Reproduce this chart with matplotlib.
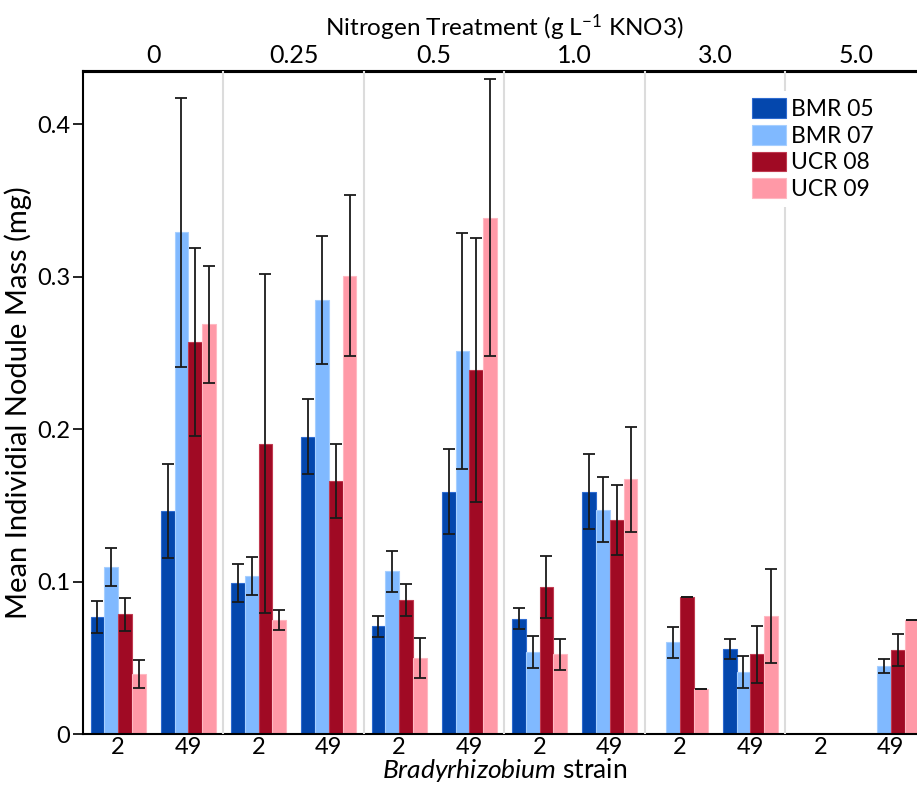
import numpy as np
import matplotlib
matplotlib.use("Agg")
import matplotlib.pyplot as plt

plt.rcParams["font.family"] = ["Lato", "DejaVu Sans"]
plt.rcParams["mathtext.fontset"] = "custom"
plt.rcParams["mathtext.rm"] = "Lato"
plt.rcParams["mathtext.it"] = "Lato:italic"

nan = np.nan

# nitrogen treatments (top axis) and strains (bottom axis)
treatments = ["0", "0.25", "0.5", "1.0", "3.0", "5.0"]
strains = ["2", "49"]
series = ["BMR 05", "BMR 07", "UCR 08", "UCR 09"]
colors = ["#0447AD", "#80B9FF", "#A00A24", "#FF99A7"]
edges = ["#2E6BD0", "#A6CFFF", "#C03A50", "#FFB8C2"]

# one value per (treatment, strain), in order 0/2, 0/49, 0.25/2, ...
bmr05 = [0.0765, 0.1464, 0.099, 0.195, 0.0706, 0.1591, 0.0756, 0.1591, nan, 0.056, nan, nan]
bmr05_err = [0.0105, 0.0306, 0.0125, 0.0245, 0.007, 0.028, 0.0068, 0.0248, nan, 0.0065, nan, nan]
bmr07 = [0.1097, 0.3292, 0.1036, 0.2846, 0.1067, 0.2513, 0.054, 0.1473, 0.0601, 0.0404, nan, 0.0446]
bmr07_err = [0.0125, 0.0883, 0.0125, 0.042, 0.0135, 0.0773, 0.0105, 0.0212, 0.01, 0.0105, nan, 0.0048]
ucr08 = [0.0785, 0.2573, 0.1904, 0.1661, 0.0881, 0.2387, 0.0966, 0.1403, 0.0898, 0.0522, nan, 0.0551]
ucr08_err = [0.0108, 0.0615, 0.1112, 0.0243, 0.0105, 0.0865, 0.0202, 0.023, 0.0, 0.0189, nan, 0.0104]
ucr09 = [0.0393, 0.2689, 0.0748, 0.3008, 0.05, 0.3388, 0.0522, 0.167, 0.0295, 0.0774, nan, 0.0745]
ucr09_err = [0.0093, 0.0384, 0.0068, 0.0527, 0.013, 0.091, 0.0101, 0.0347, 0.0, 0.0307, nan, 0.0]

values = [bmr05, bmr07, ucr08, ucr09]
errors = [bmr05_err, bmr07_err, ucr08_err, ucr09_err]

fig = plt.figure(figsize=(9.17, 7.88), dpi=100)
ax = fig.add_axes([0.0905, 0.0685, 0.9193, 0.8414])

x = np.arange(len(treatments) * len(strains))
w = 0.196
for i, (vals, errs) in enumerate(zip(values, errors)):
    pos = x + (i - 1.5) * w
    ax.bar(pos, vals, width=w, color=colors[i], edgecolor=edges[i],
           linewidth=0.8, label=series[i], zorder=2)
    ax.errorbar(pos, vals, yerr=errs, fmt="none", ecolor="#1a1a1a",
                elinewidth=1.3, capsize=4, capthick=1.3, zorder=3)

for b in np.arange(1.5, len(x) - 1, 2):
    ax.axvline(b, color="#dcdcdc", linewidth=1.5, zorder=3)

ax.set_xlim(-0.5, len(x) - 0.5)
ax.set_ylim(0, 0.435)
ax.set_yticks([0, 0.1, 0.2, 0.3, 0.4])
ax.set_yticklabels(["0", "0.1", "0.2", "0.3", "0.4"])
ax.set_xticks(x)
ax.set_xticklabels(strains * len(treatments))
ax.tick_params(axis="x", length=0, labelsize=17, pad=2)
ax.tick_params(axis="y", length=7, width=1.2, labelsize=17, pad=2)

ax.spines["right"].set_visible(False)
ax.spines["top"].set_linewidth(2.2)
ax.spines["left"].set_linewidth(1.5)
ax.spines["bottom"].set_linewidth(1.5)

top = ax.secondary_xaxis("top")
top.set_xticks(np.arange(0.5, len(x), 2))
top.set_xticklabels(treatments)
top.tick_params(length=0, labelsize=18, pad=3)
top.spines["top"].set_linewidth(2.2)
top.set_xlabel("Nitrogen Treatment (g L$^{-1}$ KNO3)", fontsize=17.5, labelpad=6)

ax.set_ylabel("Mean Individial Nodule Mass (mg)", fontsize=21, labelpad=4)
ax.set_xlabel(r"$\it{Bradyrhizobium}$ strain", fontsize=19, labelpad=-1)

leg = ax.legend(loc="upper left", bbox_to_anchor=(0.772, 0.987), frameon=True,
                fontsize=16.5, handlelength=1.5, handleheight=0.95,
                handletextpad=0.2, labelspacing=0.22, borderpad=0.3)
leg.get_frame().set_edgecolor("none")
leg.get_frame().set_facecolor("white")
leg.get_frame().set_alpha(1)
leg.set_zorder(5)

fig.savefig("out.png", dpi=100)
